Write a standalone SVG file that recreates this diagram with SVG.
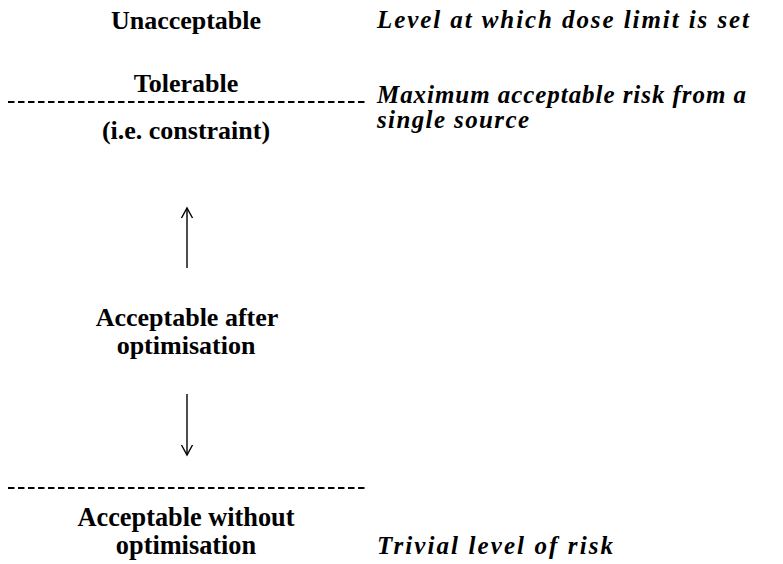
<svg xmlns="http://www.w3.org/2000/svg" width="783" height="564" viewBox="0 0 783 564">
<defs>
<style>
.d{stroke:#000;stroke-width:2;stroke-dasharray:6.5,3.5;fill:none}
.a{stroke:#000;stroke-width:1.4;fill:none}
</style>
<marker id="ah" markerWidth="14" markerHeight="14" refX="11" refY="7" orient="auto" markerUnits="userSpaceOnUse">
<path d="M1,1.5 L11,7 L1,12.5" fill="none" stroke="#000" stroke-width="1.4"/>
</marker>
</defs>
<rect width="783" height="564" fill="#fff"/>
<g id="unacceptable"><text font-family="Liberation Serif" font-weight="bold" font-size="26" text-anchor="middle" x="186" y="29">Unacceptable</text></g>
<g id="tolerable"><text font-family="Liberation Serif" font-weight="bold" font-size="26" text-anchor="middle" x="186" y="92">Tolerable</text><text font-family="Liberation Serif" font-weight="bold" font-size="26" text-anchor="middle" x="186" y="139">(i.e. constraint)</text></g>
<g id="after"><text font-family="Liberation Serif" font-weight="bold" font-size="26" text-anchor="middle" x="187" y="326">Acceptable after</text><text font-family="Liberation Serif" font-weight="bold" font-size="26" text-anchor="middle" x="186" y="354">optimisation</text></g>
<g id="without" transform="translate(186,0) scale(0.94,1)"><text font-family="Liberation Serif" font-weight="bold" font-size="28" text-anchor="middle" x="0" y="526">Acceptable without</text><text font-family="Liberation Serif" font-weight="bold" font-size="28" text-anchor="middle" x="0" y="554">optimisation</text></g>
<g id="notes" font-family="Liberation Serif" font-weight="bold" font-style="italic" font-size="25">
<text x="377" y="28" textLength="372" lengthAdjust="spacing">Level at which dose limit is set</text>
<text x="377" y="103" textLength="369" lengthAdjust="spacing">Maximum acceptable risk from a</text>
<text x="377" y="128" textLength="152" lengthAdjust="spacing">single source</text>
<text x="377" y="554" textLength="236" lengthAdjust="spacing">Trivial level of risk</text>
</g>
<g id="connectors">
<line class="d" x1="8" y1="102" x2="365" y2="102"/>
<line class="d" x1="8" y1="488" x2="365" y2="488"/>
<line class="a" x1="187" y1="268" x2="187" y2="208" marker-end="url(#ah)"/>
<line class="a" x1="187" y1="394" x2="187" y2="455" marker-end="url(#ah)"/>
</g>
</svg>
